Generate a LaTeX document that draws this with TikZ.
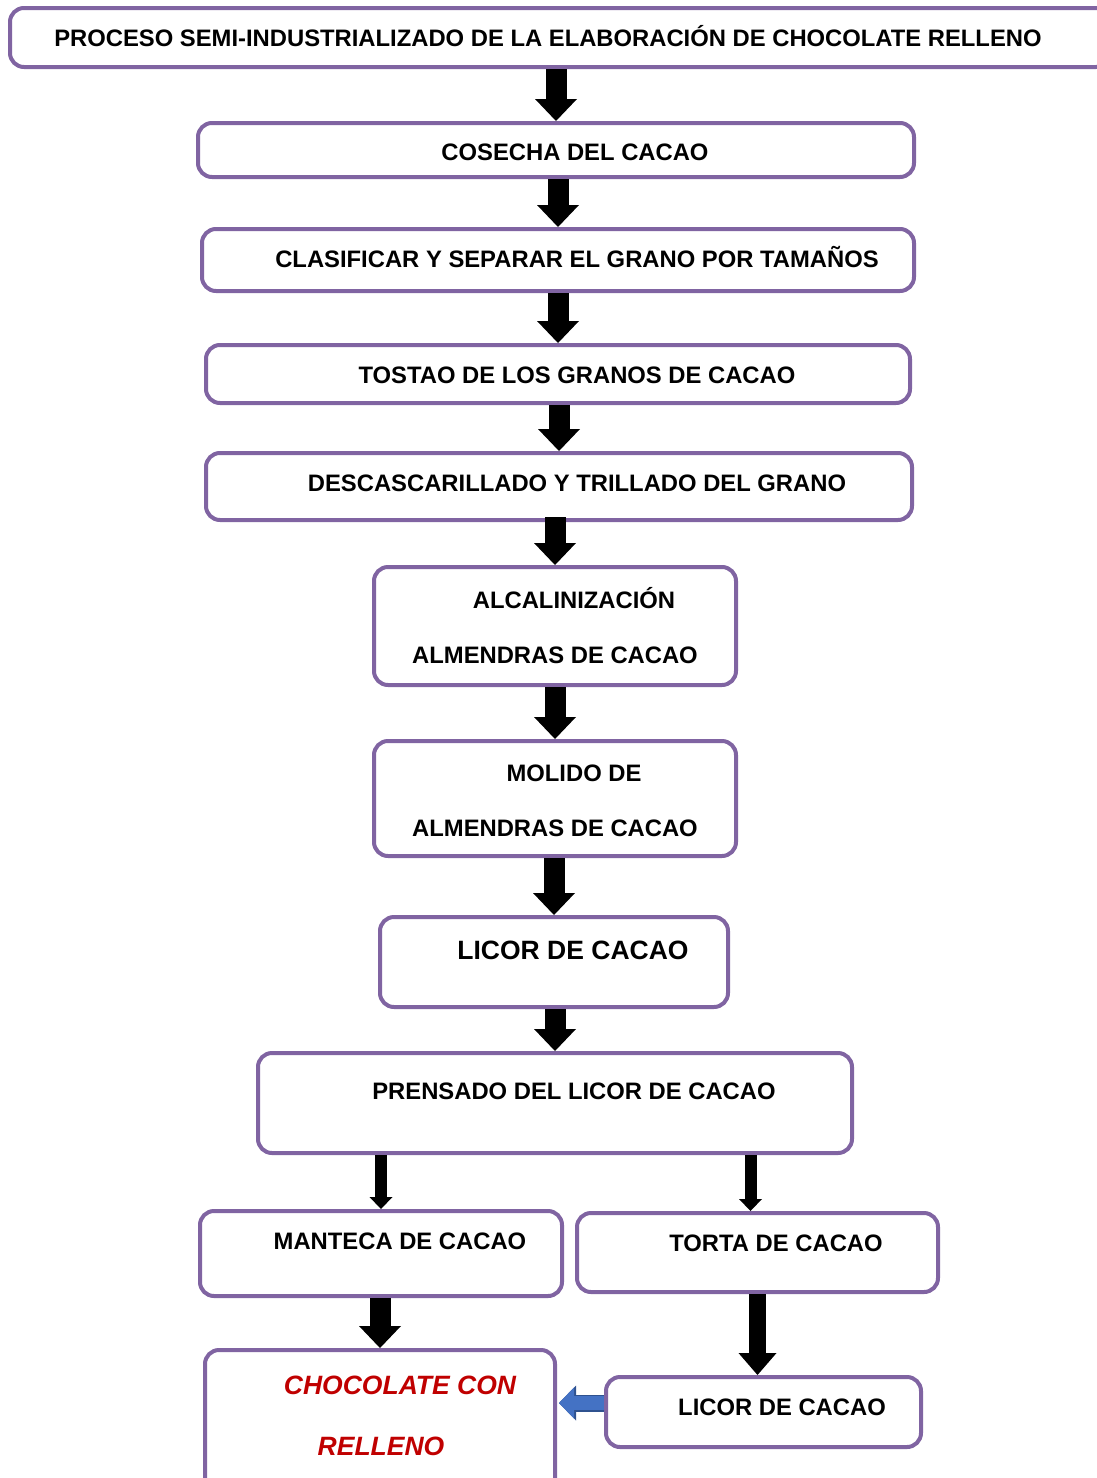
\documentclass[tikz,border=0pt]{standalone}
\usepackage{fontspec}
\setmainfont{Liberation Sans}
\usetikzlibrary{arrows.meta}

\definecolor{boxpurple}{HTML}{8064A2}
\definecolor{redtxt}{HTML}{C00000}
\definecolor{arrowblue}{HTML}{4472C4}
\definecolor{arrowedge}{HTML}{2F528F}

\tikzset{
  box/.style={draw=boxpurple,line width=4pt,rounded corners=14pt,fill=white,inner sep=0pt},
  lbl/.style={font=\bfseries\fontsize{23.8}{28}\selectfont,inner sep=0pt,text height=17pt,text depth=0pt},
  biglbl/.style={font=\bfseries\fontsize{26.5}{30}\selectfont,inner sep=0pt,text height=19pt,text depth=0pt},
  redlbl/.style={biglbl,font=\bfseries\itshape\fontsize{26.5}{30}\selectfont,text=redtxt},
  bigarrow/.style={line width=21pt,-{Triangle[width=42pt,length=22pt,line width=0pt 0]}},
  midarrow/.style={line width=17pt,-{Triangle[width=38pt,length=22pt,line width=0pt 0]}},
  thinarrow/.style={line width=12pt,-{Triangle[width=23pt,length=12pt,line width=0pt 0]}},
  bluearrow/.style={line width=14pt,draw=arrowblue,-{Triangle[width=31pt,length=15pt,line width=0pt 0]},
    preaction={draw=arrowedge,line width=17pt,-{Triangle[width=35pt,length=17pt,line width=0pt 0]}}}
}

\begin{document}
\begin{tikzpicture}[x=1pt,y=-1pt]
\useasboundingbox (0,0) rectangle (1096,1478);

% boxes
\node[box,minimum width=1100pt,minimum height=59pt] (titulo) at (560,37.5) {};
\node[box,minimum width=716pt,minimum height=54pt] (cosecha) at (556,150) {};
\node[box,minimum width=712pt,minimum height=62pt] (clasificar) at (558,260) {};
\node[box,minimum width=704pt,minimum height=58pt] (tostado) at (558,374) {};
\node[box,minimum width=706pt,minimum height=67pt] (descasc) at (559,486.5) {};
\node[box,minimum width=362pt,minimum height=118pt] (alcalin) at (555,626) {};
\node[box,minimum width=362pt,minimum height=115pt] (molido) at (555,798.5) {};
\node[box,minimum width=348pt,minimum height=90pt] (licor) at (554,962) {};
\node[box,minimum width=594pt,minimum height=100pt] (prensado) at (555,1103) {};
\node[box,minimum width=362pt,minimum height=85pt] (manteca) at (381,1253.5) {};
\node[box,minimum width=361pt,minimum height=79pt] (torta) at (757.5,1252.5) {};
\node[box,minimum width=350pt,minimum height=150pt] (chocolate) at (380,1425) {};
\node[box,minimum width=315pt,minimum height=70pt] (licorb) at (763.5,1412) {};

% texts
\node[lbl] (tituloT) at (548,38) {PROCESO SEMI-INDUSTRIALIZADO DE LA ELABORACIÓN DE CHOCOLATE RELLENO};
\node[lbl] (cosechaT) at (575,152) {COSECHA DEL CACAO};
\node[lbl] (clasificarT) at (577,259) {CLASIFICAR Y SEPARAR EL GRANO POR TAMAÑOS};
\node[lbl] (tostadoT) at (577,375) {TOSTAO DE LOS GRANOS DE CACAO};
\node[lbl] (descascT) at (577,483) {DESCASCARILLADO Y TRILLADO DEL GRANO};
\node[lbl] (alcalinT) at (574,600) {ALCALINIZACIÓN};
\node[lbl] (alcalinU) at (555,655) {ALMENDRAS DE CACAO};
\node[lbl] (molidoT) at (574,773) {MOLIDO DE};
\node[lbl] (molidoU) at (555,828) {ALMENDRAS DE CACAO};
\node[biglbl] (licorT) at (573,950) {LICOR DE CACAO};
\node[lbl] (prensadoT) at (574,1091) {PRENSADO DEL LICOR DE CACAO};
\node[lbl] (mantecaT) at (400,1241) {MANTECA DE CACAO};
\node[lbl] (tortaT) at (776,1243) {TORTA DE CACAO};
\node[redlbl] (chocolateT) at (400,1385) {CHOCOLATE CON};
\node[redlbl] (chocolateU) at (381,1446) {RELLENO};
\node[lbl] (licorbT) at (782,1407) {LICOR DE CACAO};

% arrows
\coordinate (tortaIn) at ([xshift=-7pt]torta.north);
\draw[bigarrow] (titulo.south -| cosecha.north) -- (cosecha.north);
\draw[bigarrow] (cosecha.south -| clasificar.north) -- (clasificar.north);
\draw[bigarrow] (clasificar.south -| tostado.north) -- (tostado.north);
\draw[bigarrow] (tostado.south -| descasc.north) -- (descasc.north);
\draw[bigarrow] ([yshift=5pt]descasc.south -| alcalin.north) -- (alcalin.north);
\draw[bigarrow] (alcalin.south -| molido.north) -- (molido.north);
\draw[bigarrow] (molido.south -| licor.north) -- (licor.north);
\draw[bigarrow] (licor.south -| prensado.north) -- (prensado.north);
\draw[thinarrow] (prensado.south -| manteca.north) -- (manteca.north);
\draw[thinarrow] (prensado.south -| tortaIn) -- (tortaIn);
\draw[bigarrow] (manteca.south -| chocolate.north) -- (chocolate.north);
\draw[midarrow] (torta.south) -- (torta.south |- licorb.north);
\draw[bluearrow] (licorb.west |- 0,1403) -- ([xshift=2pt]chocolate.east |- 0,1403);
\end{tikzpicture}
\end{document}
